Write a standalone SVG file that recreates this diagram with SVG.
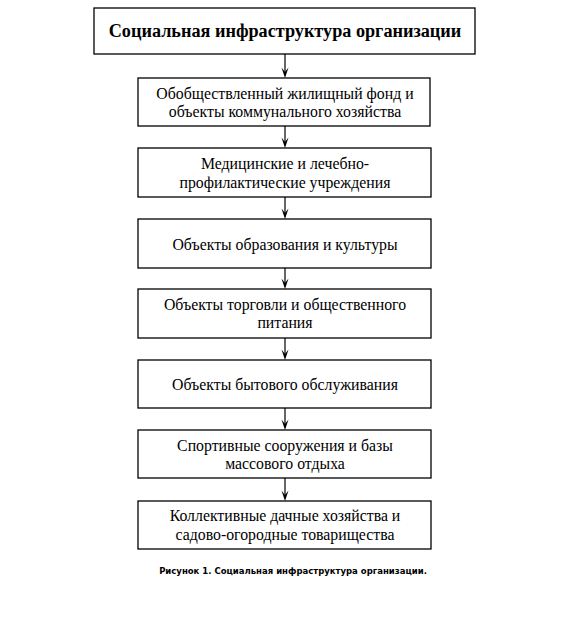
<svg xmlns="http://www.w3.org/2000/svg" xmlns:xlink="http://www.w3.org/1999/xlink" width="568" height="642" viewBox="0 0 568 642">
<style>
.box{fill:#fff;stroke:#000;stroke-width:1.3}
.t{font-family:"Liberation Serif","Times New Roman",serif;font-size:15.8px;fill:#000;text-anchor:middle}
.h{font-family:"Liberation Serif","Times New Roman",serif;font-size:18.2px;font-weight:bold;fill:#000;text-anchor:middle}
.c{font-family:"DejaVu Sans","Liberation Sans",sans-serif;font-size:8.5px;font-weight:bold;fill:#000;text-anchor:middle}
.ln{stroke:#000;stroke-width:1.2;fill:none}
</style>
<defs>
<path id="ah" d="M-3.5,-10.5 L0,0 L3.5,-10.5 L0,-6 Z" fill="#000"/>
</defs>
<rect width="568" height="642" fill="#fff"/>
<g id="n0">
<rect class="box" x="94" y="8" width="381" height="46"/>
<text class="h" x="285" y="37">Социальная инфраструктура организации</text>
</g>
<g id="n1">
<rect class="box" x="138" y="78" width="292" height="48"/>
<text class="t" x="285" y="99">Обобществленный жилищный фонд и</text>
<text class="t" x="285" y="117">объекты коммунального хозяйства</text>
</g>
<g id="n2">
<rect class="box" x="138" y="148" width="293" height="49"/>
<text class="t" x="285" y="169">Медицинские и лечебно-</text>
<text class="t" x="285" y="188">профилактические учреждения</text>
</g>
<g id="n3">
<rect class="box" x="138" y="219" width="293" height="49"/>
<text class="t" x="285" y="249.5">Объекты образования и культуры</text>
</g>
<g id="n4">
<rect class="box" x="138" y="289" width="293" height="49"/>
<text class="t" x="285" y="310">Объекты торговли и общественного</text>
<text class="t" x="285" y="328">питания</text>
</g>
<g id="n5">
<rect class="box" x="138" y="360" width="293" height="48"/>
<text class="t" x="285" y="390">Объекты бытового обслуживания</text>
</g>
<g id="n6">
<rect class="box" x="138" y="430" width="293" height="48"/>
<text class="t" x="285" y="451">Спортивные сооружения и базы</text>
<text class="t" x="285" y="469">массового отдыха</text>
</g>
<g id="n7">
<rect class="box" x="138" y="501" width="293" height="48"/>
<text class="t" x="285" y="521">Коллективные дачные хозяйства и</text>
<text class="t" x="285" y="540">садово-огородные товарищества</text>
</g>
<g id="connectors">
<line class="ln" x1="285" y1="54" x2="285" y2="74"/>
<use xlink:href="#ah" href="#ah" x="285" y="78"/>
<line class="ln" x1="285" y1="126" x2="285" y2="144"/>
<use xlink:href="#ah" href="#ah" x="285" y="148"/>
<line class="ln" x1="285" y1="197" x2="285" y2="215"/>
<use xlink:href="#ah" href="#ah" x="285" y="219"/>
<line class="ln" x1="285" y1="268" x2="285" y2="285"/>
<use xlink:href="#ah" href="#ah" x="285" y="289"/>
<line class="ln" x1="285" y1="338" x2="285" y2="356"/>
<use xlink:href="#ah" href="#ah" x="285" y="360"/>
<line class="ln" x1="285" y1="408" x2="285" y2="426"/>
<use xlink:href="#ah" href="#ah" x="285" y="430"/>
<line class="ln" x1="285" y1="478" x2="285" y2="497"/>
<use xlink:href="#ah" href="#ah" x="285" y="501"/>
</g>
<text class="c" x="293" y="574">Рисунок 1. Социальная инфраструктура организации.</text>
</svg>
